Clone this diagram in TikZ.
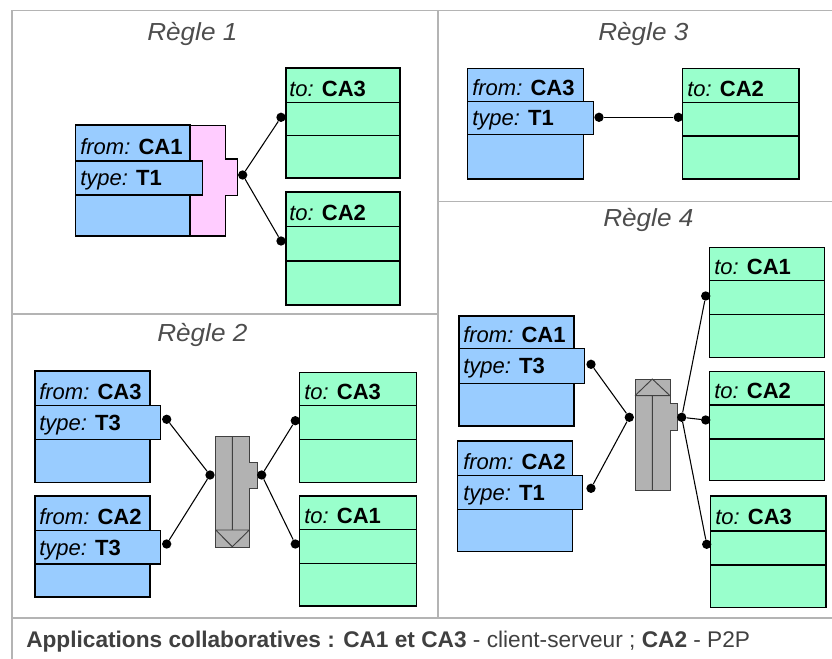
\documentclass[tikz,border=0pt]{standalone}
\usepackage{fontspec}
\setmainfont{Liberation Sans}
\newfontfamily\boxfont{Liberation Sans}
\newfontfamily\titlefont[FakeStretch=1.06]{Liberation Sans}
\newfontfamily\footfont{Liberation Sans}
\definecolor{bluefill}{HTML}{99CCFF}
\definecolor{greenfill}{HTML}{99FFCC}
\definecolor{pinkfill}{HTML}{FFCCFF}
\definecolor{grayfill}{HTML}{B2B2B2}
\definecolor{framegray}{HTML}{B4B4B4}
\definecolor{titlegray}{HTML}{4D4D4D}
\definecolor{footgray}{HTML}{404040}
\tikzset{
  frameline/.style={draw=framegray, line width=1.2pt},
  boxline/.style={draw=black, line width=0.9pt},
  bluebox/.style={boxline, fill=bluefill},
  greenbox/.style={boxline, fill=greenfill},
  pinkbox/.style={boxline, fill=pinkfill},
  graybox/.style={draw=black!75, line width=0.7pt, fill=grayfill},
  grayinner/.style={draw=black!75, line width=0.7pt},
  dotnode/.style={circle, fill=black, inner sep=0pt, minimum size=7pt},
  conn/.style={draw=black, line width=0.8pt},
  lbl/.style={anchor=base west, inner sep=0pt, font=\boxfont\fontsize{16.5}{19}\selectfont},
  ttl/.style={anchor=base west, inner sep=0pt, text=titlegray, font=\titlefont\itshape\fontsize{18.5}{21}\selectfont},
}
\newcommand\fr[1]{{\itshape from:} \textbf{#1}}
\newcommand\ty[1]{{\itshape type:} \textbf{#1}}
\newcommand\tto[1]{{\itshape to:} \textbf{#1}}
\begin{document}
\begin{tikzpicture}[x=0.75pt, y=-0.75pt]
\useasboundingbox (0,0) rectangle (832,659);
% frame
\draw[frameline] (12,659) -- (12,10.5) -- (832,10.5);
\draw[frameline] (438,10.5) -- (438,618);
\draw[frameline] (12,314) -- (438,314);
\draw[frameline] (438,201.5) -- (832,201.5);
\draw[frameline] (12,618) -- (832,618);
% titles
\node[ttl] (t1) at (147,41) {Règle 1};
\node[ttl] (t3) at (598,41) {Règle 3};
\node[ttl] (t2) at (157,342) {Règle 2};
\node[ttl] (t4) at (603,227) {Règle 4};

% ===== Rule 1 =====
\path[pinkbox] (190,125.7) -- (225.7,125.7) -- (225.7,159) -- (237.7,159) -- (237.7,195.7) -- (225.7,195.7) -- (225.7,236) -- (190,236) -- cycle;
\path[bluebox] (75.7,125) rectangle (190,236);
\path[bluebox] (75.7,161) rectangle (202.7,195);
\node[lbl] (r1from) at (80,154.5) {\fr{CA1}};
\node[lbl] (r1type) at (80,185.5) {\ty{T1}};
\path[greenbox] (286,68) rectangle (400,178);
\draw[boxline] (286,102.7) -- (400,102.7) (286,135.7) -- (400,135.7);
\node[lbl] (r1toa) at (289,96.5) {\tto{CA3}};
\path[greenbox] (286,192) rectangle (400,305);
\draw[boxline] (286,226.7) -- (400,226.7) (286,261) -- (400,261);
\node[lbl] (r1tob) at (289,220.5) {\tto{CA2}};
\node[dotnode] (r1d) at (242.7,175) {};
\node[dotnode] (r1a) at (281,117.3) {};
\node[dotnode] (r1b) at (281,241) {};
\draw[conn] (r1d) -- (r1a);
\draw[conn] (r1d) -- (r1b);

% ===== Rule 3 =====
\path[bluebox] (467.7,68.3) rectangle (583.3,179);
\path[bluebox] (467.7,101.7) rectangle (593.3,134.3);
\node[lbl] (r3from) at (472,95.5) {\fr{CA3}};
\node[lbl] (r3type) at (472,126) {\ty{T1}};
\path[greenbox] (682.7,68.3) rectangle (799,179);
\draw[boxline] (682.7,102.7) -- (799,102.7) (682.7,136) -- (799,136);
\node[lbl] (r3to) at (687,96.5) {\tto{CA2}};
\node[dotnode] (r3s) at (599,117.3) {};
\node[dotnode] (r3t) at (678.3,117.3) {};
\draw[conn] (r3s) -- (r3t);

% ===== Rule 2 =====
\path[bluebox] (35,371) rectangle (150,482.7);
\path[bluebox] (35,405.7) rectangle (160.7,439.3);
\node[lbl] (r2froma) at (39,399.5) {\fr{CA3}};
\node[lbl] (r2typea) at (39,430) {\ty{T3}};
\path[bluebox] (35,496) rectangle (150,597);
\path[bluebox] (35,530.7) rectangle (160.7,564);
\node[lbl] (r2fromb) at (39,524.5) {\fr{CA2}};
\node[lbl] (r2typeb) at (39,555) {\ty{T3}};
\path[graybox] (215.7,436.7) -- (249.3,436.7) -- (249.3,462.3) -- (257.3,462.3) -- (257.3,488.3) -- (249.3,488.3) -- (249.3,547.7) -- (215.7,547.7) -- cycle;
\draw[grayinner] (232.3,436.7) -- (232.3,530) (215.7,530) -- (249.3,530) (215.7,530) -- (232.3,546.7) -- (249.3,530);
\path[greenbox] (299.3,372.7) rectangle (416.7,482.7);
\draw[boxline] (299.3,405.7) -- (416.7,405.7) (299.3,439.3) -- (416.7,439.3);
\node[lbl] (r2toa) at (304,399.5) {\tto{CA3}};
\path[greenbox] (299.3,496) rectangle (416.7,606);
\draw[boxline] (299.3,529.3) -- (416.7,529.3) (299.3,563.3) -- (416.7,563.3);
\node[lbl] (r2tob) at (304,523) {\tto{CA1}};
\node[dotnode] (r2sa) at (166.7,419.3) {};
\node[dotnode] (r2sb) at (166.7,544) {};
\node[dotnode] (r2gl) at (210,475) {};
\node[dotnode] (r2gr) at (261.7,475) {};
\node[dotnode] (r2ta) at (295.3,420.7) {};
\node[dotnode] (r2tb) at (295.3,544) {};
\draw[conn] (r2sa) -- (r2gl);
\draw[conn] (r2sb) -- (r2gl);
\draw[conn] (r2gr) -- (r2ta);
\draw[conn] (r2gr) -- (r2tb);

% ===== Rule 4 =====
\path[bluebox] (459,316) rectangle (574,426);
\path[bluebox] (459,348.7) rectangle (584.3,383.3);
\node[lbl] (r4froma) at (463,342.5) {\fr{CA1}};
\node[lbl] (r4typea) at (463,373.5) {\ty{T3}};
\path[bluebox] (457.3,441) rectangle (572.7,551.7);
\path[bluebox] (457.3,475.7) rectangle (582.7,509.3);
\node[lbl] (r4fromb) at (463,469.5) {\fr{CA2}};
\node[lbl] (r4typeb) at (463,500) {\ty{T1}};
\path[graybox] (635,379) -- (670,379) -- (670,403.3) -- (677.3,403.3) -- (677.3,430) -- (670,430) -- (670,490) -- (635,490) -- cycle;
\draw[grayinner] (635,395.7) -- (670,395.7) (635,395.7) -- (652.3,379) -- (670,395.7) (652.3,395.7) -- (652.3,490);
\path[greenbox] (709.3,247.3) rectangle (824.3,357.3);
\draw[boxline] (709.3,280.7) -- (824.3,280.7) (709.3,314.7) -- (824.3,314.7);
\node[lbl] (r4toa) at (714,274.5) {\tto{CA1}};
\path[greenbox] (709.3,371.7) rectangle (824.3,480.7);
\draw[boxline] (709.3,405) -- (824.3,405) (709.3,439) -- (824.3,439);
\node[lbl] (r4tob) at (714,398.5) {\tto{CA2}};
\path[greenbox] (710.7,496) rectangle (826,607.7);
\draw[boxline] (710.7,531) -- (826,531) (710.7,565) -- (826,565);
\node[lbl] (r4toc) at (715,524.5) {\tto{CA3}};
\node[dotnode] (r4sa) at (591,364.3) {};
\node[dotnode] (r4sb) at (591,488.3) {};
\node[dotnode] (r4gl) at (629.3,417.3) {};
\node[dotnode] (r4gr) at (681.7,417.3) {};
\node[dotnode] (r4ta) at (705.7,296) {};
\node[dotnode] (r4tb) at (705.7,420) {};
\node[dotnode] (r4tc) at (706.7,544.3) {};
\draw[conn] (r4sa) -- (r4gl);
\draw[conn] (r4sb) -- (r4gl);
\draw[conn] (r4gr) -- (r4ta);
\draw[conn] (r4gr) -- (r4tb);
\draw[conn] (r4gr) -- (r4tc);

% footer
\node[anchor=base west, inner sep=0pt, text=footgray, font=\footfont\fontsize{17}{20}\selectfont] (foot) at (26,647) {\textbf{Applications collaboratives : CA1 et CA3} - client-serveur ; \textbf{CA2} - P2P};
\end{tikzpicture}
\end{document}
